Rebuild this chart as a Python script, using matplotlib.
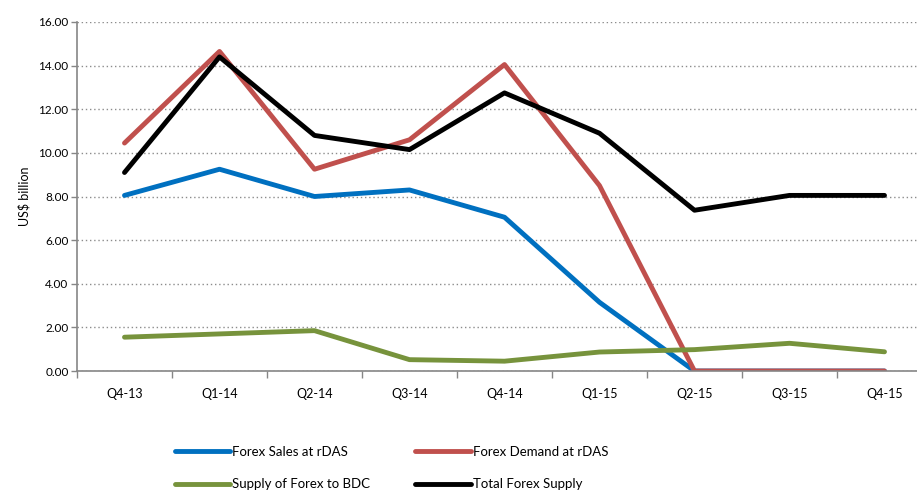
import matplotlib
matplotlib.use("Agg")
import matplotlib.pyplot as plt
import numpy as np

quarters = ["Q4-13", "Q1-14", "Q2-14", "Q3-14", "Q4-14", "Q1-15", "Q2-15", "Q3-15", "Q4-15"]
forex_sales = [8.05, 9.25, 8.0, 8.3, 7.05, 3.15, 0.0, 0.0, 0.0]
forex_demand = [10.45, 14.65, 9.25, 10.6, 14.05, 8.5, 0.0, 0.0, 0.0]
bdc_supply = [1.55, 1.7, 1.85, 0.52, 0.45, 0.87, 0.98, 1.27, 0.88]
total_supply = [9.1, 14.4, 10.8, 10.15, 12.75, 10.9, 7.37, 8.05, 8.05]

plt.rcParams['font.family'] = ['Lato', 'DejaVu Sans']

fig = plt.figure(figsize=(9.17, 4.93), dpi=100)
ax = fig.add_axes([77 / 917, 1 - 371 / 493, 855 / 917, 349 / 493])

x = np.arange(len(quarters))
lw = 3.5
l1, = ax.plot(x, forex_sales, color="#0070C0", lw=lw, label="Forex Sales at rDAS", solid_capstyle="round")
l2, = ax.plot(x, forex_demand, color="#C0504D", lw=lw, label="Forex Demand at rDAS", solid_capstyle="round")
l3, = ax.plot(x, bdc_supply, color="#77933C", lw=lw, label="Supply of Forex to BDC", solid_capstyle="round")
l4, = ax.plot(x, total_supply, color="black", lw=lw, label="Total Forex Supply", solid_capstyle="round")

ax.set_xlim(-0.5, len(quarters) - 0.5)
ax.set_ylim(0, 16)
ax.set_yticks(np.arange(0, 17, 2))
ax.set_yticklabels(["%.2f" % v for v in np.arange(0, 17, 2)], fontsize=8.5)
ax.set_xticks(x)
ax.set_xticklabels(quarters, fontsize=9)
ax.set_xticks(np.arange(-0.5, len(quarters), 1), minor=True)
ax.tick_params(axis="x", which="major", length=0, pad=12)
ax.tick_params(axis="x", which="minor", length=5, color="#868686", width=1)
ax.tick_params(axis="y", length=4, color="#868686", width=1, pad=2)

ax.grid(axis="y", color="#8c8c8c", linestyle=(0, (1, 2)), lw=1)
ax.set_axisbelow(True)
for s in ["top", "right"]:
    ax.spines[s].set_visible(False)
for s in ["left", "bottom"]:
    ax.spines[s].set_color("#868686")
    ax.spines[s].set_linewidth(1.2)

ax.set_ylabel("US$ billion", fontsize=9, labelpad=6)

leg = fig.legend([l1, l3, l2, l4], [l.get_label() for l in (l1, l3, l2, l4)],
                 loc="upper left", bbox_to_anchor=(163 / 917, 1 - 434 / 493), ncol=2,
                 frameon=False, fontsize=9.5, handlelength=4.2, handletextpad=0.15,
                 columnspacing=3.4, labelspacing=1.55)
for h in leg.legend_handles:
    h.set_linewidth(lw)

fig.savefig("out.png", dpi=100)
